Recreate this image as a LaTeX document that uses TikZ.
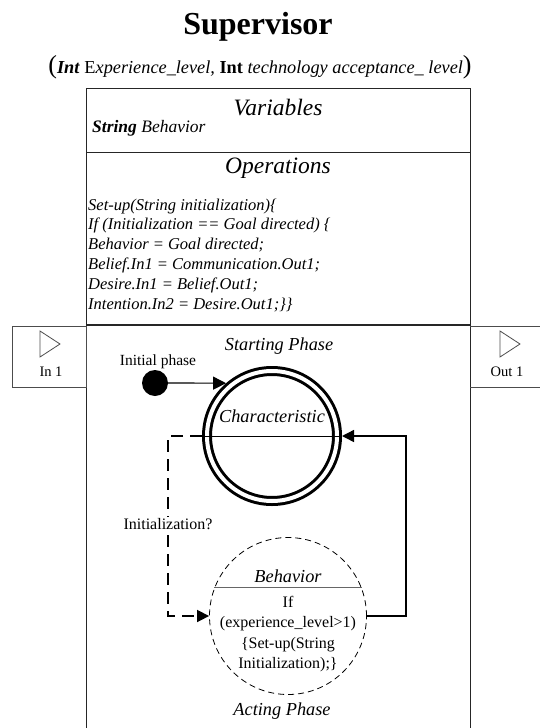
\documentclass[tikz,border=0pt]{standalone}
\usepackage{fontspec}
\setmainfont{Liberation Serif}
\usetikzlibrary{arrows.meta}

\tikzset{
 frame/.style={draw=black!85, line width=1pt},
 port/.style={draw=black!70, line width=0.8pt},
 txt/.style={inner sep=0pt, font=\fontsize{15.5}{18}\selectfont},
 phase/.style={inner sep=0pt, font=\fontsize{18.3}{22}\selectfont\itshape},
 code/.style={inner sep=0pt, anchor=north west, align=left, font=\fontsize{16.5}{19.8}\selectfont\itshape},
 body/.style={inner sep=0pt, align=center, font=\fontsize{16}{20.5}\selectfont},
 tip/.style={-{Triangle[length=12pt,width=12pt]}},
 dashline/.style={line width=1.6pt, dash pattern=on 12pt off 7pt},
 solidline/.style={line width=1.4pt},
}

\begin{document}
\begin{tikzpicture}[x=1pt,y=-1pt]
\useasboundingbox (0,0) rectangle (539,728);

% heading
\node[inner sep=0pt, font=\fontsize{32}{36}\selectfont\bfseries] (title) at (258,27) {Supervisor};
\node[inner sep=0pt, font=\fontsize{18.3}{22}\selectfont] (params) at (260,67)
 {{\fontsize{26}{26}\selectfont(}\textbf{\textit{Int}} E\textit{xperience\_level,} \textbf{Int} \textit{technology acceptance\_ level}{\fontsize{26}{26}\selectfont)}};

% class frame
\draw[frame] (86,745) -- (86,88) -- (470,88) -- (470,745);
\draw[frame] (86,152) -- (470,152);
\draw[frame, line width=1.6pt] (86,325) -- (470,325);

\node[inner sep=0pt, font=\fontsize{23.5}{26}\selectfont\itshape] (vars) at (278,108) {Variables};
\node[inner sep=0pt, anchor=west, font=\fontsize{17.5}{20}\selectfont\itshape] (behavvar) at (92,128) {\textbf{String} Behavior};
\node[inner sep=0pt, font=\fontsize{23.5}{26}\selectfont\itshape] (ops) at (278,168) {Operations};
\node[code] (setup) at (88,198.5) {Set-up(String initialization)\{\\
If (Initialization == Goal directed) \{\\
Behavior = Goal directed;\\
Belief.In1 = Communication.Out1;\\
Desire.In1 = Belief.Out1;\\
Intention.In2 = Desire.Out1;\}\}};

% ports
\node[port, rectangle, minimum width=74pt, minimum height=61pt, inner sep=0pt] (inbox) at (49,356.5) {};
\draw[port] (470,326) -- (545,326) (470,387) -- (545,387);
\foreach \px in {40,500}
 \draw[port] (\px,331) -- (\px+20,344) -- (\px,357) -- cycle;
\node[txt, font=\fontsize{14.5}{17}\selectfont] (inlbl) at (51,372) {In 1};
\node[txt, font=\fontsize{14.5}{17}\selectfont] (outlbl) at (507,372) {Out 1};

% states
\node[phase] (start) at (279,346) {Starting Phase};
\node[txt] (initph) at (158,362) {Initial phase};
\node[circle, fill, minimum size=26pt, inner sep=0pt] (init) at (155,383) {};
\node[circle, draw, double, double distance=4pt, line width=3pt, minimum size=130pt, inner sep=0pt, outer sep=5pt] (charac) at (272,436) {};
\node[phase] (charname) at (272,416) {Characteristic};
\draw[line width=0.8pt] (charac.west) -- (charac.east);
\draw[line width=1.2pt, -{Triangle[length=13pt,width=13pt]}] (init) -- (charac.131);

\node[circle, draw, dash pattern=on 6pt off 4pt, line width=0.8pt, minimum size=157pt, inner sep=0pt] (behav) at (288,616) {};
\draw[black!60, line width=1pt] (behav.159) -- (behav.21);
\node[phase] (behavname) at (288,576) {Behavior};
\node[body] (behavcode) at (288,634) {If\\(experience\_level>1)\\\{Set-up(String\\Initialization);\}};
\node[phase] (act) at (282,711) {Acting Phase};

% transitions
\coordinate (bendL) at (168,436);
\coordinate (bendR) at (406,616);
\draw[dashline, tip] (charac.west) -- (bendL) |- (behav.west);
\draw[solidline, tip] (behav.east) -- (bendR) |- (charac.east);
\node[txt, fill=white, inner sep=1pt, font=\fontsize{16}{19}\selectfont] (initq) at (168,524) {Initialization?};
\end{tikzpicture}
\end{document}
